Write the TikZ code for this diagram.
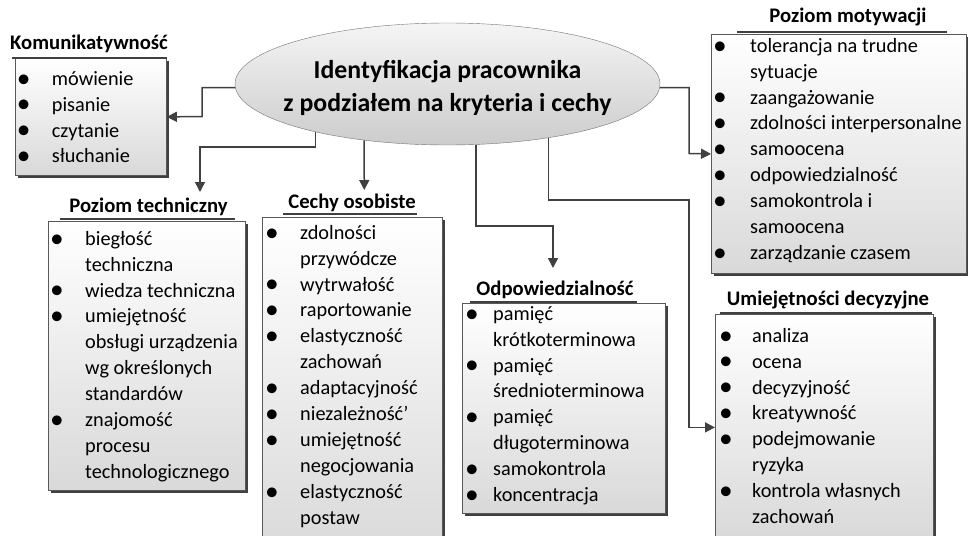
\documentclass[tikz,border=0pt]{standalone}
\usepackage{fontspec}
\usepackage{graphicx}
\setmainfont{Carlito}
\usetikzlibrary{shapes.geometric,arrows.meta,shadows}
\newlength\bud
\newcommand\bu{\llap{\makebox[\bud][l]{\raisebox{-1.8pt}{\scalebox{1.35}{•}}}}}
\tikzset{
 box/.style={rectangle, draw=black!65, line width=0.8pt, top color=white, bottom color=black!15,
   drop shadow={shadow xshift=2.5pt,shadow yshift=-2.5pt,fill=black!75,opacity=1}, inner sep=0, anchor=north west},
 lst/.style={anchor=north west, inner sep=0, align=left, font=\fontsize{20.3}{25.9}\selectfont},
 ttl/.style={anchor=base, inner sep=0, font=\fontsize{20.7}{24}\selectfont\bfseries},
 uline/.style={draw=black!75, line width=2.6pt},
 conn/.style={draw=black!75, line width=1.5pt, -{Triangle[length=10pt,width=10pt]}},
}
\begin{document}
\begin{tikzpicture}[x=1pt,y=-1pt]
\useasboundingbox (0,0) rectangle (968,535);
\clip (0,0) rectangle (968,535);

% centre
\node[ellipse, minimum width=425pt, minimum height=122pt, inner sep=0, draw=black!55, top color=black!4, bottom color=black!20] (c) at (447.5,84) {};
\node[font=\fontsize{25.8}{33}\selectfont\bfseries, align=center, inner sep=0] (ct) at (447.5,88) {Identyfikacja pracownika\\z podziałem na kryteria i cechy};

% boxes
\node[box, minimum width=151pt, minimum height=117pt] (kom) at (15,58) {};
\node[box, minimum width=197pt, minimum height=269pt] (pt) at (48,221) {};
\node[box, minimum width=180pt, minimum height=343pt] (co) at (262,217) {};
\node[box, minimum width=203pt, minimum height=210pt] (odp) at (462,303) {};
\node[box, minimum width=255pt, minimum height=239pt] (pm) at (711,34) {};
\node[box, minimum width=218pt, minimum height=226pt] (ud) at (715,314) {};

% titles
\node[ttl] (kot) at (89,49) {Komunikatywność};
\node[ttl] (ptt) at (148.5,212) {Poziom techniczny};
\node[ttl] (cot) at (352,208) {Cechy osobiste};
\node[ttl] (odt) at (555,295) {Odpowiedzialność};
\node[ttl] (pmt) at (848,23) {Poziom motywacji};
\node[ttl] (udt) at (828,305) {Umiejętności decyzyjne};

\draw[uline] (12,58) -- (167,58);
\draw[uline] (60,219) -- (235,219);
\draw[uline] (283,214) -- (417,214);
\draw[uline] (470,302) -- (637,302);
\draw[uline] (737,32) -- (947,32);
\draw[uline] (720,313) -- (932,313);

% lists
\node[lst, execute at begin node={\global\bud=35pt}] (koml) at (51.7,69) {\rule{0pt}{16pt}\bu mówienie\\\bu pisanie\\\bu czytanie\\\bu słuchanie};
\node[lst, execute at begin node={\global\bud=35pt}] (ptl) at (85,229) {\rule{0pt}{16pt}\bu biegłość\\techniczna\\\bu wiedza techniczna\\\bu umiejętność\\obsługi urządzenia\\wg określonych\\standardów\\\bu znajomość\\procesu\\technologicznego};
\node[lst, execute at begin node={\global\bud=35pt}] (col) at (300,223) {\rule{0pt}{16pt}\bu zdolności\\przywódcze\\\bu wytrwałość\\\bu raportowanie\\\bu elastyczność\\zachowań\\\bu adaptacyjność\\\bu niezależność’\\\bu umiejętność\\negocjowania\\\bu elastyczność\\postaw};
\node[lst, execute at begin node={\global\bud=28pt}] (odpl) at (493,304) {\rule{0pt}{16pt}\bu pamięć\\krótkoterminowa\\\bu pamięć\\średnioterminowa\\\bu pamięć\\długoterminowa\\\bu samokontrola\\\bu koncentracja};
\node[lst, execute at begin node={\global\bud=37pt}] (pml) at (750,36) {\rule{0pt}{16pt}\bu tolerancja na trudne\\sytuacje\\\bu zaangażowanie\\\bu zdolności interpersonalne\\\bu samoocena\\\bu odpowiedzialność\\\bu samokontrola i\\samoocena\\\bu zarządzanie czasem};
\node[lst, execute at begin node={\global\bud=33pt}] (udl) at (752,326) {\rule{0pt}{16pt}\bu analiza\\\bu ocena\\\bu decyzyjność\\\bu kreatywność\\\bu podejmowanie\\ryzyka\\\bu kontrola własnych\\zachowań};

% connector ends
\coordinate (ptin) at (200,192);
\coordinate (coin) at (364.3,190);
\coordinate (odin) at (553,268);

% connectors
\draw[conn] (c.181) -| (202,116.5) -- (kom.east);
\draw[conn] (c.200) |- (200,147) -- (ptin);
\draw[conn] (c.214) -- (coin);
\draw[conn] (c.295) |- (553,226) -- (odin);
\draw[conn] (c.332) |- (689,200) |- (ud.west);
\draw[conn] (c.359) -| (689,153.5) -- (pm.west);
\end{tikzpicture}
\end{document}
